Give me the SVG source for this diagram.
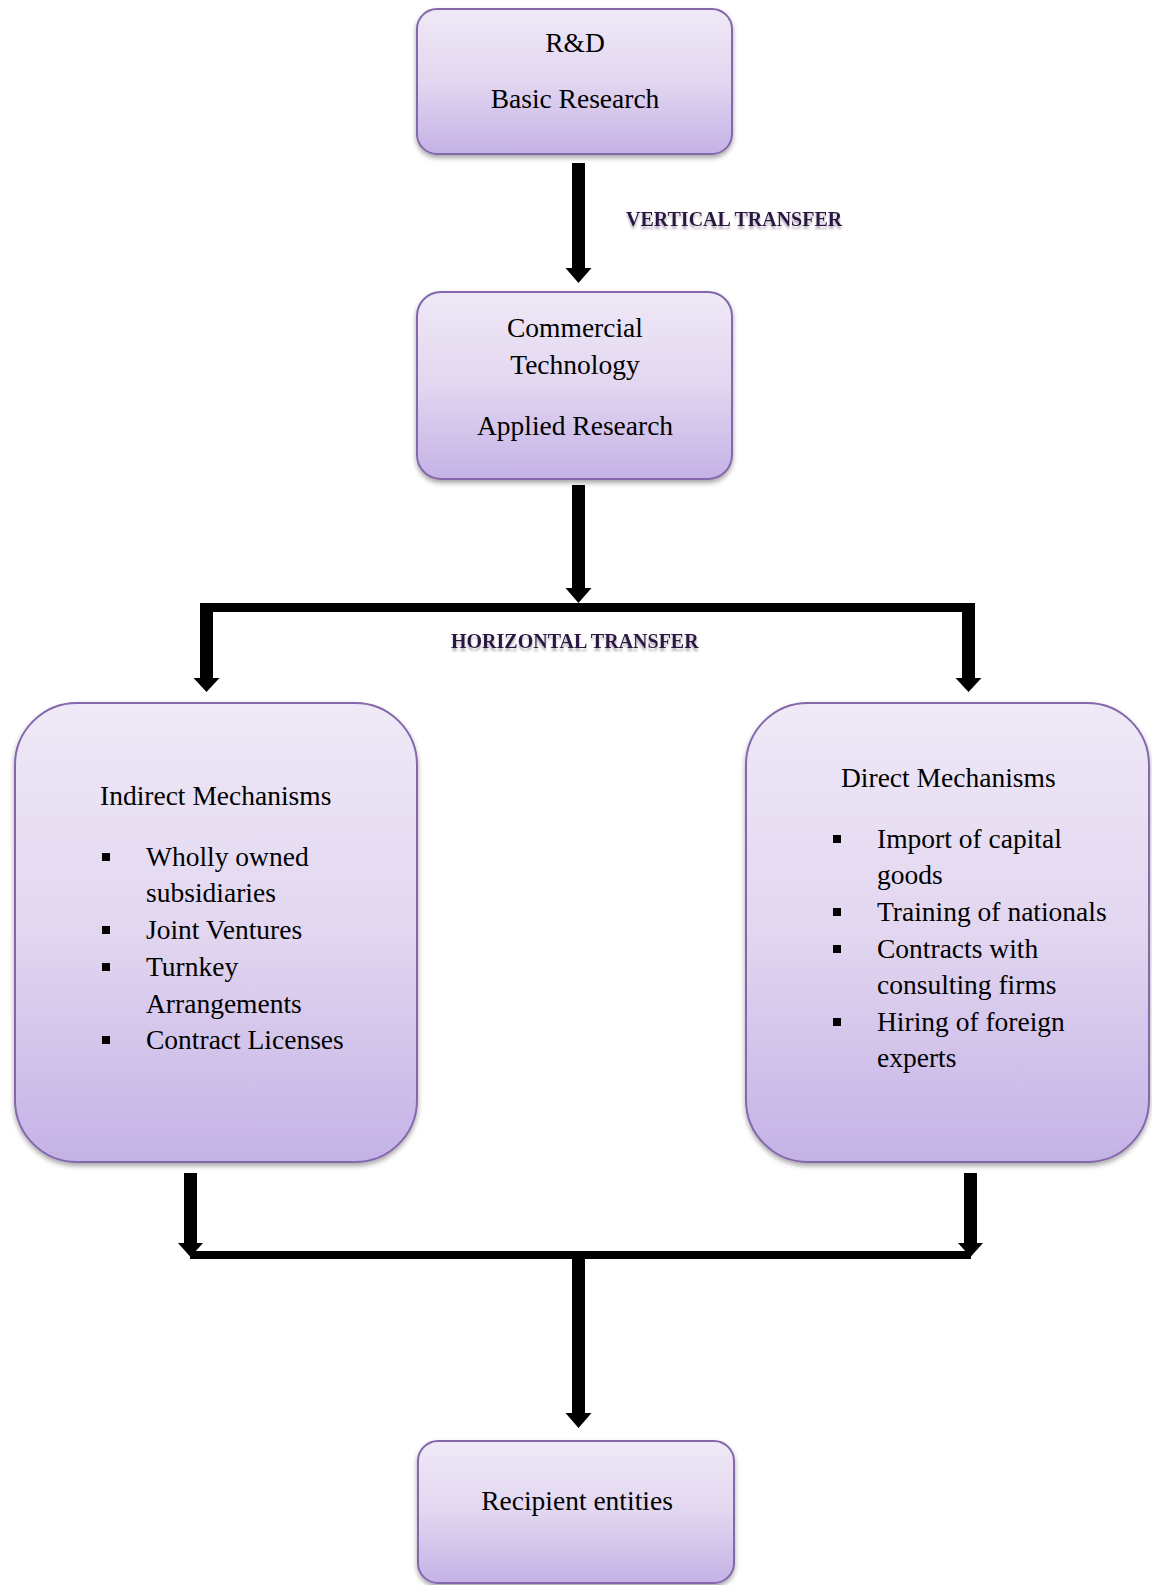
<svg xmlns="http://www.w3.org/2000/svg" width="1152" height="1585" viewBox="0 0 1152 1585">
<defs>
<linearGradient id="g" x1="0" y1="0" x2="0" y2="1">
<stop offset="0" stop-color="#efe9f7"/>
<stop offset="0.5" stop-color="#e2d6f0"/>
<stop offset="1" stop-color="#c4b2e6"/>
</linearGradient>
<filter id="sh" x="-10%" y="-10%" width="120%" height="125%">
<feDropShadow dx="0" dy="3" stdDeviation="2.5" flood-color="#000" flood-opacity="0.35"/>
</filter>
<filter id="ts" x="-5%" y="-30%" width="110%" height="180%">
<feDropShadow dx="0" dy="3" stdDeviation="1.2" flood-color="#8a7a90" flood-opacity="0.6"/>
</filter>
<marker id="ah" viewBox="0 0 26 15" refX="13" refY="15" markerWidth="26" markerHeight="15" markerUnits="userSpaceOnUse" orient="auto-start-reverse">
<path d="M0 0 L26 0 L13 15 Z" fill="#000"/>
</marker>
</defs>
<style>
.box{fill:url(#g);stroke:#8467ab;stroke-width:2;filter:url(#sh)}
.t{font-family:"Liberation Serif","Times New Roman",serif;font-size:27.5px;fill:#000}
.c{text-anchor:middle}
.lbl{font-family:"Liberation Serif","Times New Roman",serif;font-size:20px;font-weight:bold;fill:#2a1942;filter:url(#ts)}
.bul{fill:#000}
.conn path,.conn line{stroke:#000;fill:none}
</style>

<g class="conn" id="connectors">
<polygon points="572,163 585,163 585,268 591.5,268 578.5,283 565.5,268 572,268" fill="#000"/>
<polygon points="572,485 585,485 585,588 591.5,588 578.5,603 565.5,588 572,588" fill="#000"/>
<rect x="200" y="603" width="775" height="9" fill="#000"/>
<polygon points="200,603 213,603 213,678 219.5,678 206.5,692 193.5,678 200,678" fill="#000"/>
<polygon points="962,603 975,603 975,678 981.5,678 968.5,692 955.5,678 962,678" fill="#000"/>
<polygon points="184,1173 197,1173 197,1243 203,1243 190.5,1257 178,1243 184,1243" fill="#000"/>
<polygon points="964,1173 977,1173 977,1243 983,1243 970.5,1257 958,1243 964,1243" fill="#000"/>
<rect x="190" y="1251" width="781" height="8" fill="#000"/>
<polygon points="572,1259 585,1259 585,1413 591.5,1413 578.5,1428 565.5,1413 572,1413" fill="#000"/>
</g>

<g id="label-vertical">
<text class="lbl" x="626" y="226">VERTICAL TRANSFER</text>
</g>
<g id="label-horizontal">
<text class="lbl" x="451" y="648">HORIZONTAL TRANSFER</text>
</g>

<g id="node-rd">
<rect class="box" x="417" y="9" width="315" height="145" rx="20"/>
<text class="t c" x="575" y="52">R&amp;D</text>
<text class="t c" x="575" y="108">Basic Research</text>
</g>

<g id="node-commercial">
<rect class="box" x="417" y="292" width="315" height="187" rx="24"/>
<text class="t c" x="575" y="337">Commercial</text>
<text class="t c" x="575" y="374">Technology</text>
<text class="t c" x="575" y="435">Applied Research</text>
</g>

<g id="node-indirect">
<rect class="box" x="15" y="703" width="402" height="459" rx="62"/>
<text class="t" x="100" y="805">Indirect Mechanisms</text>
<rect class="bul" x="102" y="853" width="8" height="8"/>
<text class="t" x="146" y="866">Wholly owned</text>
<text class="t" x="146" y="902">subsidiaries</text>
<rect class="bul" x="102" y="926" width="8" height="8"/>
<text class="t" x="146" y="939">Joint Ventures</text>
<rect class="bul" x="102" y="963" width="8" height="8"/>
<text class="t" x="146" y="976">Turnkey</text>
<text class="t" x="146" y="1013">Arrangements</text>
<rect class="bul" x="102" y="1036" width="8" height="8"/>
<text class="t" x="146" y="1049">Contract Licenses</text>
</g>

<g id="node-direct">
<rect class="box" x="746" y="703" width="403" height="459" rx="62"/>
<text class="t" x="841" y="787">Direct Mechanisms</text>
<rect class="bul" x="833" y="835" width="8" height="8"/>
<text class="t" x="877" y="848">Import of capital</text>
<text class="t" x="877" y="884">goods</text>
<rect class="bul" x="833" y="908" width="8" height="8"/>
<text class="t" x="877" y="921">Training of nationals</text>
<rect class="bul" x="833" y="945" width="8" height="8"/>
<text class="t" x="877" y="958">Contracts with</text>
<text class="t" x="877" y="994">consulting firms</text>
<rect class="bul" x="833" y="1018" width="8" height="8"/>
<text class="t" x="877" y="1031">Hiring of foreign</text>
<text class="t" x="877" y="1067">experts</text>
</g>

<g id="node-recipient">
<rect class="box" x="418" y="1441" width="316" height="142" rx="20"/>
<text class="t c" x="577" y="1510">Recipient entities</text>
</g>
</svg>
